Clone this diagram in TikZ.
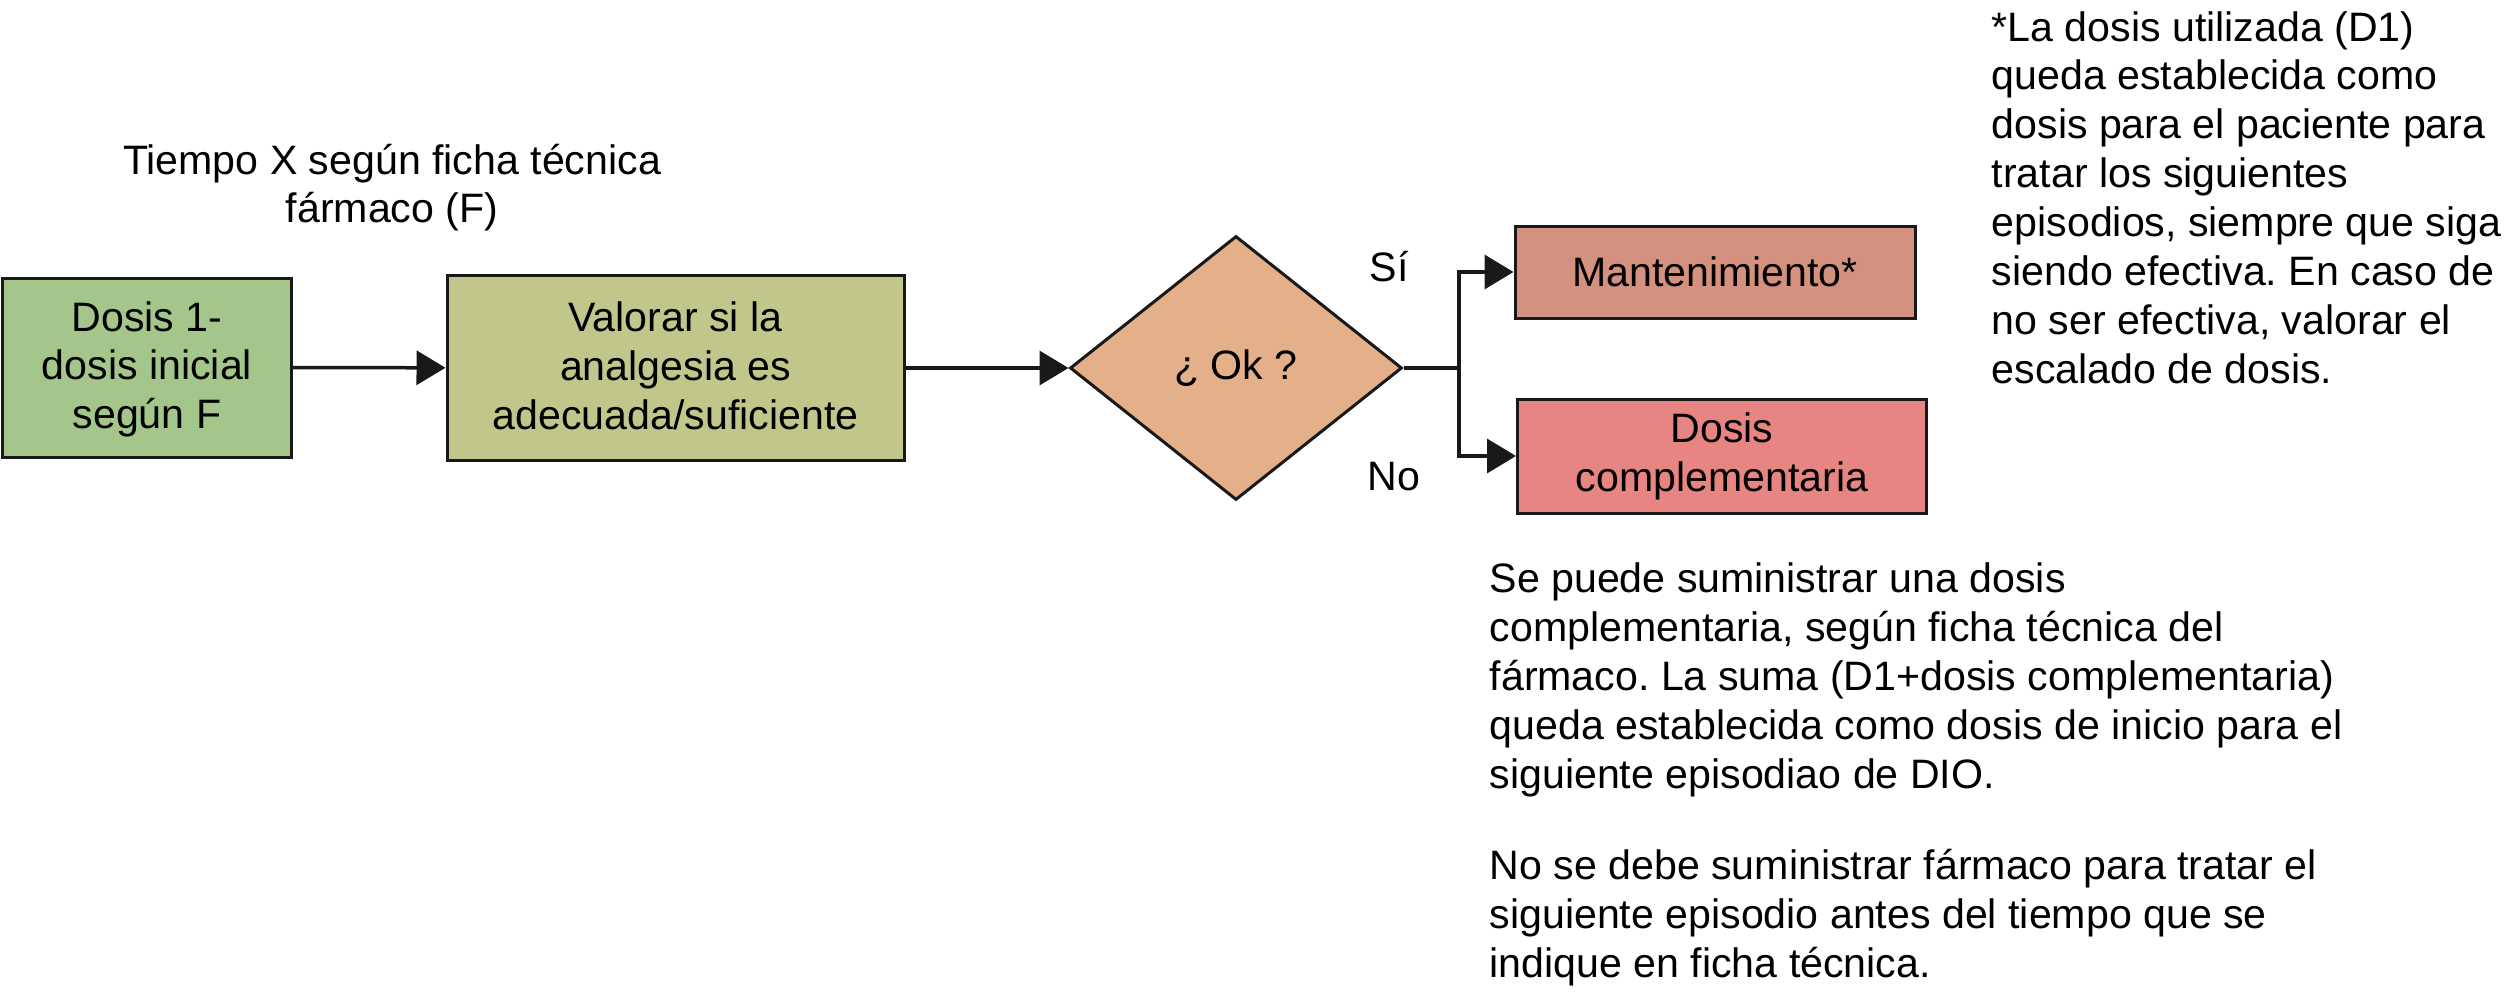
\documentclass[tikz,border=0pt]{standalone}
\usepackage{fontspec}
\setmainfont{Liberation Sans}
\usetikzlibrary{arrows.meta,shapes.geometric}
\frenchspacing
\definecolor{verde}{HTML}{A4C68B}
\definecolor{oliva}{HTML}{C2C68A}
\definecolor{melocoton}{HTML}{E3B08A}
\definecolor{salmon}{HTML}{D5917F}
\definecolor{rosa}{HTML}{E68582}
\tikzset{
	caja/.style={draw=black!90, line width=0.3mm, inner sep=0pt, align=center},
	flecha/.style={line width=0.35mm, draw=black!90, -{Triangle[length=2.9mm,width=3.4mm]}},
}

\begin{document}
\begin{tikzpicture}[font=\fontsize{11.7}{13.9}\selectfont]
	%%%%% START %%%%%
	\useasboundingbox (0, 0) rectangle (25.06, -10.02);

	\node[align=center, anchor=base] (tiempo) at (3.92, -2.23) {Tiempo X según ficha técnica\\fármaco (F)};

	\node[caja, fill=verde, minimum width=2.88cm, minimum height=1.79cm, text depth=0.05cm] (dosis) at (1.47, -3.675) {Dosis 1-\\dosis inicial\\según F};
	\node[caja, fill=oliva, minimum width=4.57cm, minimum height=1.85cm, text depth=0.05cm] (valorar) at (6.755, -3.68) {Valorar si la\\analgesia es\\adecuada/suficiente};
	\node[caja, diamond, fill=melocoton, minimum width=3.32cm, minimum height=2.64cm] (ok) at (12.36, -3.68) {¿ Ok ?};

	\node[caja, fill=salmon, minimum width=4.0cm, minimum height=0.92cm] (mant) at (17.15, -2.72) {Mantenimiento*};
	\node[caja, fill=rosa, minimum width=4.09cm, minimum height=1.14cm] (comp) at (17.22, -4.56) {Dosis\\complementaria};

	\coordinate (rama) at (14.59, -3.68);

	\draw[flecha] (dosis) -- (valorar);
	\draw[flecha] (valorar) -- (ok);
	\draw[line width=0.35mm, draw=black!90] (ok.east) -- (rama);
	\draw[flecha] (rama) |- (mant.west);
	\draw[flecha] (rama) |- (comp.west);

	\node (si) at (13.89, -2.67) {Sí};
	\node (no) at (13.94, -4.77) {No};

	%% notas
	\node[align=left, anchor=base west, inner sep=0pt] (nota1) at (19.91, -3.83) {*La dosis utilizada (D1)\\queda establecida como\\dosis para el paciente para\\tratar los siguientes\\episodios, siempre que siga\\siendo efectiva. En caso de\\no ser efectiva, valorar el\\escalado de dosis.};
	\node[align=left, anchor=base west, inner sep=0pt] (nota2) at (14.89, -7.88) {Se puede suministrar una dosis\\complementaria, según ficha técnica del\\fármaco. La suma (D1+dosis complementaria)\\queda establecida como dosis de inicio para el\\siguiente episodiao de DIO.};
	\node[align=left, anchor=base west, inner sep=0pt] (nota3) at (14.89, -9.77) {No se debe suministrar fármaco para tratar el\\siguiente episodio antes del tiempo que se\\indique en ficha técnica.};

	%%%%% END %%%%%
\end{tikzpicture}
\end{document}
